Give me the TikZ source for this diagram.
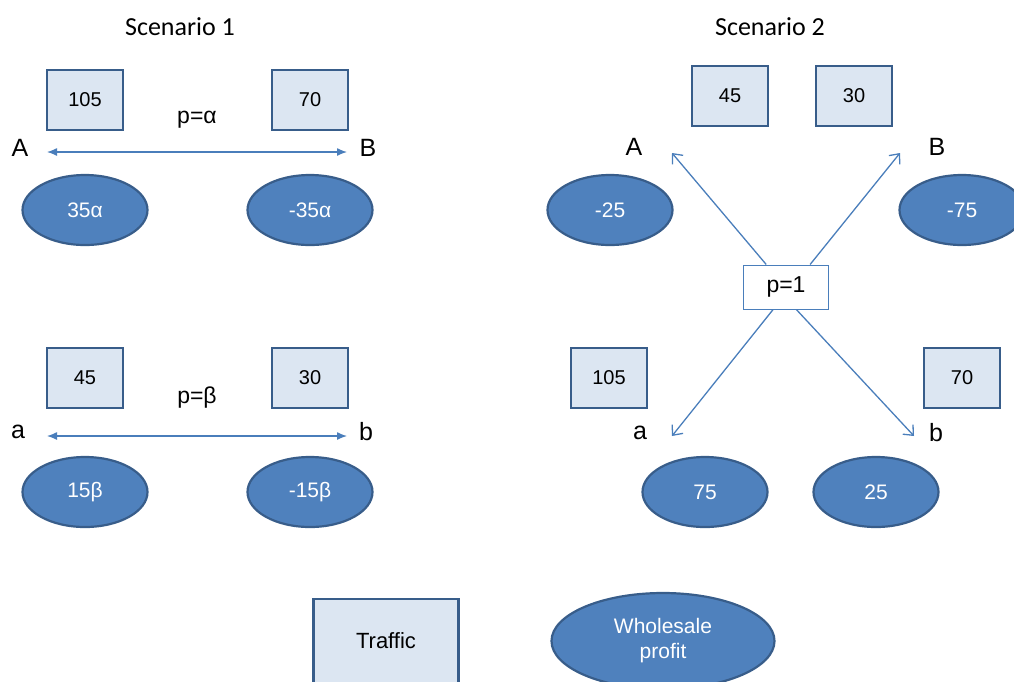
\documentclass[tikz,border=0pt]{standalone}
\usepackage{fontspec}
\setmainfont{Liberation Sans}
\newfontfamily\headfont{Carlito}
\usetikzlibrary{arrows.meta,shapes.geometric,calc}
\definecolor{boxfill}{HTML}{DCE6F2}
\definecolor{boxline}{HTML}{385D8A}
\definecolor{profitfill}{HTML}{4F81BD}
\definecolor{flow}{HTML}{4A7EBB}
\tikzset{
  traffic/.style={draw=boxline, fill=boxfill, line width=2.5pt, minimum width=76pt, minimum height=60pt, font=\fontsize{20}{24}\selectfont},
  wprofit/.style={ellipse, draw=boxline, fill=profitfill, line width=2.2pt, minimum width=125pt, minimum height=70pt, text=white, font=\fontsize{21}{24}\selectfont},
  city/.style={font=\fontsize{25}{28}\selectfont},
  price/.style={font=\fontsize{23}{26}\selectfont},
  route/.style={flow, line width=1.3pt, {Latex[length=10pt,width=8pt]}-{Latex[length=10pt,width=8pt]}},
  link/.style={flow, line width=1.3pt, -{Straight Barb[length=8pt,width=14pt]}},
}
\begin{document}
\begin{tikzpicture}[x=1pt,y=-1pt]
  \useasboundingbox (0,0) rectangle (1014,681);
  \clip (0,0) rectangle (1014,681);
  % scenario 1
  \node[font=\headfont\fontsize{26}{30}\selectfont] (S1) at (180,27) {Scenario 1};
  \node[traffic] (T105) at (85,100) {105};
  \node[traffic] (T70) at (310,100) {70};
  \node[price] (Palpha) at (197,120) {p=α};
  \node[city] (A1) at (20,148) {A};
  \node[city] (B1) at (368,148) {B};
  \coordinate (A1r) at (47,152);
  \coordinate (B1r) at (347,152);
  \draw[route] (A1r) -- (B1r);
  \node[wprofit] (W35) at (85,210) {35α};
  \node[wprofit] (Wm35) at (310,210) {-35α};

  \node[traffic] (T45) at (85,378) {45};
  \node[traffic] (T30) at (310,378) {30};
  \node[price] (Pbeta) at (197,398) {p=β};
  \node[city] (a1) at (18,432) {a};
  \node[city] (b1) at (366,432) {b};
  \coordinate (a1r) at (47,436);
  \coordinate (b1r) at (347,436);
  \draw[route] (a1r) -- (b1r);
  \node[wprofit] (W15) at (85,492) {15β};
  \node[wprofit] (Wm15) at (310,492) {-15β};

  % scenario 2
  \node[font=\headfont\fontsize{26}{30}\selectfont] (S2) at (770,27) {Scenario 2};
  \node[traffic] (T45b) at (730,96) {45};
  \node[traffic] (T30b) at (854,96) {30};
  \node[city] (A2) at (634,147) {A};
  \node[city] (B2) at (937,147) {B};
  \node[wprofit] (Wm25) at (610,210) {-25};
  \node[wprofit] (Wm75) at (962,210) {-75};
  \node[draw=flow, fill=white, line width=1pt, minimum width=85pt, minimum height=44pt, price] (P1) at (786,287) {p=1};
  \node[traffic] (T105b) at (609,378) {105};
  \node[traffic] (T70b) at (962,378) {70};
  \node[city] (a2) at (640,433) {a};
  \node[city] (b2) at (936,433) {b};
  \node[wprofit] (W75) at (705,492) {75};
  \node[wprofit] (W25) at (876,492) {25};
  \coordinate (A2r) at (672,153);
  \coordinate (B2r) at (900,153);
  \coordinate (a2r) at (672,436);
  \coordinate (b2r) at (914,436);
  \draw[link] ($(P1.north west)!0.27!(P1.north east)$) -- (A2r);
  \draw[link] ($(P1.north west)!0.78!(P1.north east)$) -- (B2r);
  \draw[link] ($(P1.south west)!0.35!(P1.south east)$) -- (a2r);
  \draw[link] ($(P1.south west)!0.62!(P1.south east)$) -- (b2r);

  % legend
  \node[traffic, minimum width=145pt, minimum height=84pt, font=\fontsize{22}{26}\selectfont] (Tkey) at (386,641) {Traffic};
  \node[wprofit, minimum width=223pt, minimum height=96pt, align=center, font=\fontsize{21}{25}\selectfont] (Wkey) at (663,641) {Wholesale\\profit};
\end{tikzpicture}
\end{document}
